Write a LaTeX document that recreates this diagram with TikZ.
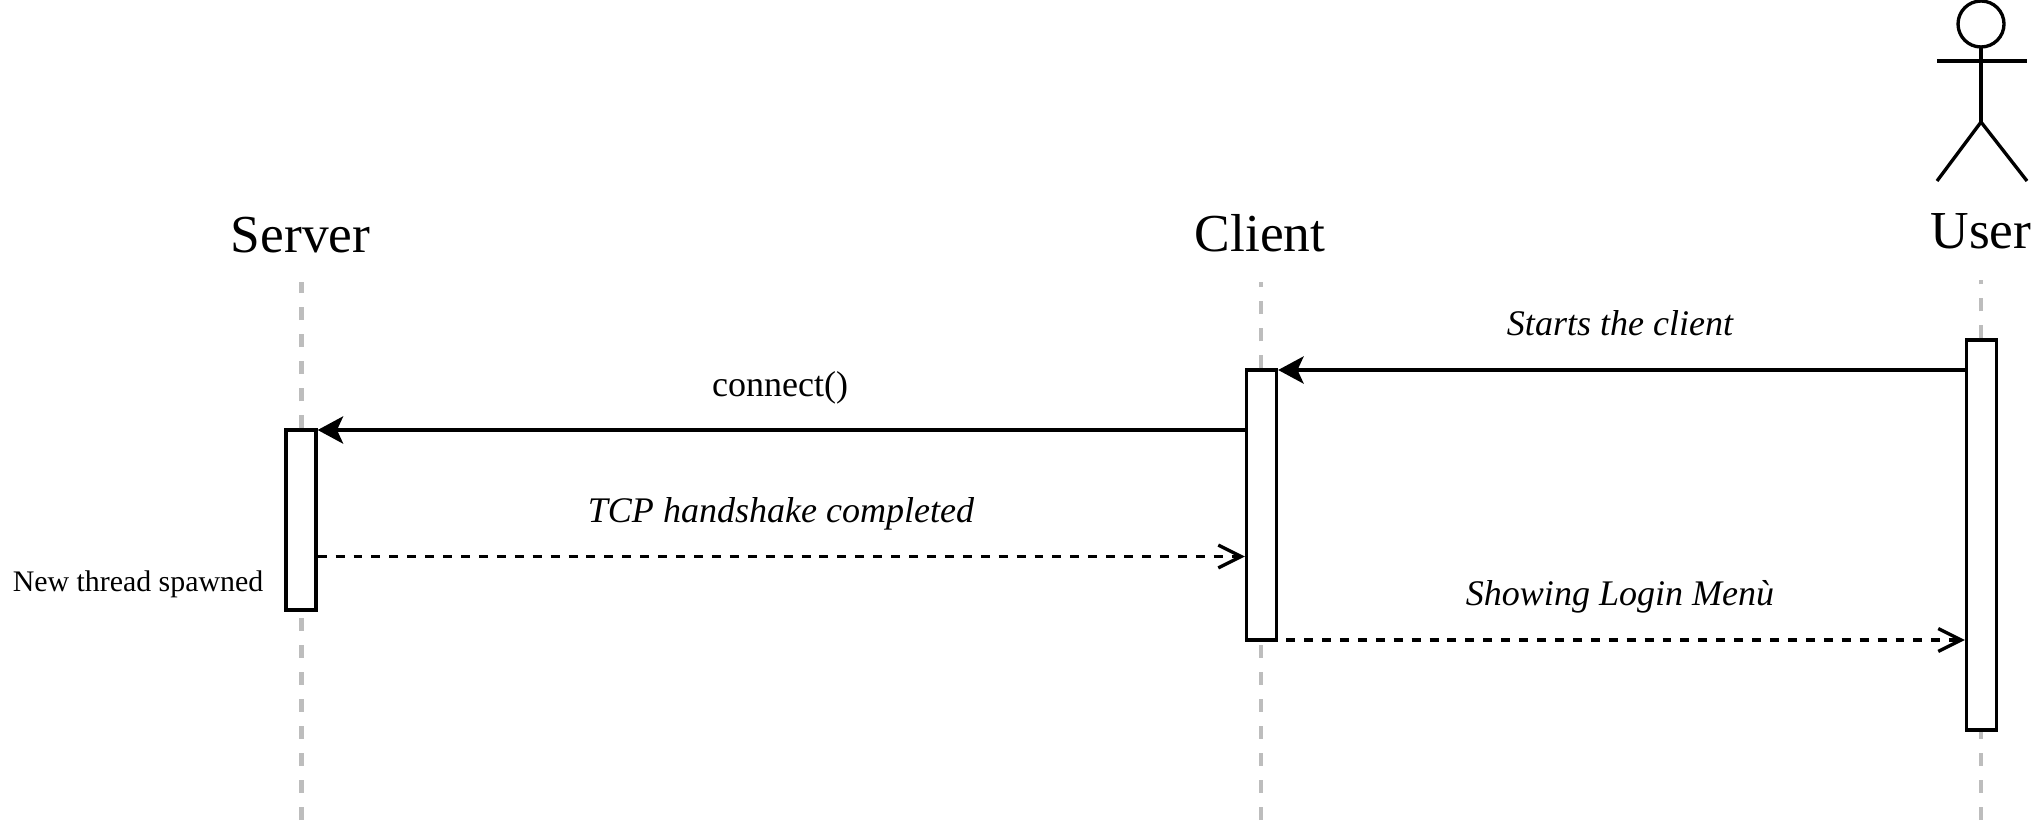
\documentclass[tikz,border=0pt]{standalone}
\usepackage{fontspec}
\setmainfont{Liberation Serif}
\usetikzlibrary{arrows.meta}

\tikzset{
  lifeline/.style={draw=black!26, line width=2.7pt, dash pattern=on 7.4pt off 8pt},
  actbox/.style={draw, fill=white, line width=1.9pt, minimum width=.6cm, inner sep=0pt},
  call/.style={line width=1.9pt, -{Stealth[length=14.5pt, width=15.5pt, inset=3.5pt]}},
  reply/.style={line width=1.8pt, dash pattern=on 5.1pt off 5.1pt, -{Straight Barb[length=13pt, width=13pt, line width=1.9pt]}},
  actor/.style={line width=1.9pt},
  headtext/.style={font=\fontsize{30.4}{30}\selectfont, anchor=base},
  msgtext/.style={font=\fontsize{20.5}{24}\selectfont, anchor=base},
}

\begin{document}
\begin{tikzpicture}[x=0.02cm, y=-0.02cm]
  \useasboundingbox (0,0) rectangle (2031,828);

  \coordinate (st) at (301.5,282);
  \coordinate (sb) at (301.5,820);
  \coordinate (ct) at (1261,282);
  \coordinate (cb) at (1261,820);
  \coordinate (ut) at (1981,280);
  \coordinate (ub) at (1981,820);
  \coordinate (starts) at (1600,370);
  \coordinate (connect) at (800,430);
  \coordinate (tcp) at (800,556.5);
  \coordinate (login) at (1600,640);

  \coordinate (neck) at (1981,47);
  \coordinate (hip) at (1981,122);
  \coordinate (armL) at (1937,61);
  \coordinate (armR) at (2027,61);
  \coordinate (legL) at (1937,181);
  \coordinate (legR) at (2027,181);

  \node[actbox, minimum height=3.6cm] (serverbox) at (301,520) {};
  \node[actbox, minimum height=5.4cm] (clientbox) at (1261.5,505) {};
  \node[actbox, minimum height=7.8cm] (userbox) at (1981.5,535) {};

  \draw[lifeline] (serverbox.north -| st) -- (st);
  \draw[lifeline] (clientbox.north -| ct) -- (ct);
  \draw[lifeline] (userbox.north -| ut) -- (ut);
  \draw[lifeline] (sb) -- (serverbox.south -| sb);
  \draw[lifeline] (cb) -- (clientbox.south -| cb);
  \draw[lifeline] (ub) -- (userbox.south -| ub);

  \node[headtext] (server) at (300.5,252) {Server};
  \node[headtext] (client) at (1260,251.5) {Client};
  \node[headtext] (user) at (1981,248) {User};

  \draw[actor] (1981,24) circle [radius=23];
  \draw[actor] (neck) -- (hip);
  \draw[actor] (armL) -- (armR);
  \draw[actor] (legL) -- (hip) -- (legR);

  \draw[call] (userbox.west |- starts) -- (clientbox.east |- starts);
  \draw[call] (clientbox.west |- connect) -- (serverbox.east |- connect);
  \draw[reply] (serverbox.east |- tcp) -- (clientbox.west |- tcp);
  \draw[reply] ([xshift=8*0.02cm]clientbox.east |- login) -- (userbox.west |- login);

  \node[msgtext] (startstext) at (1620,335.5) {\itshape Starts the client};
  \node[msgtext] (connecttext) at (780,396.5) {connect()};
  \node[msgtext] (tcptext) at (781,522.5) {\itshape TCP handshake completed};
  \node[msgtext] (logintext) at (1620,605.5) {\itshape Showing Login Menù};
  \node[anchor=base, font=\fontsize{17}{20}\selectfont] (threadtext) at (138,591) {New thread spawned};
\end{tikzpicture}
\end{document}
